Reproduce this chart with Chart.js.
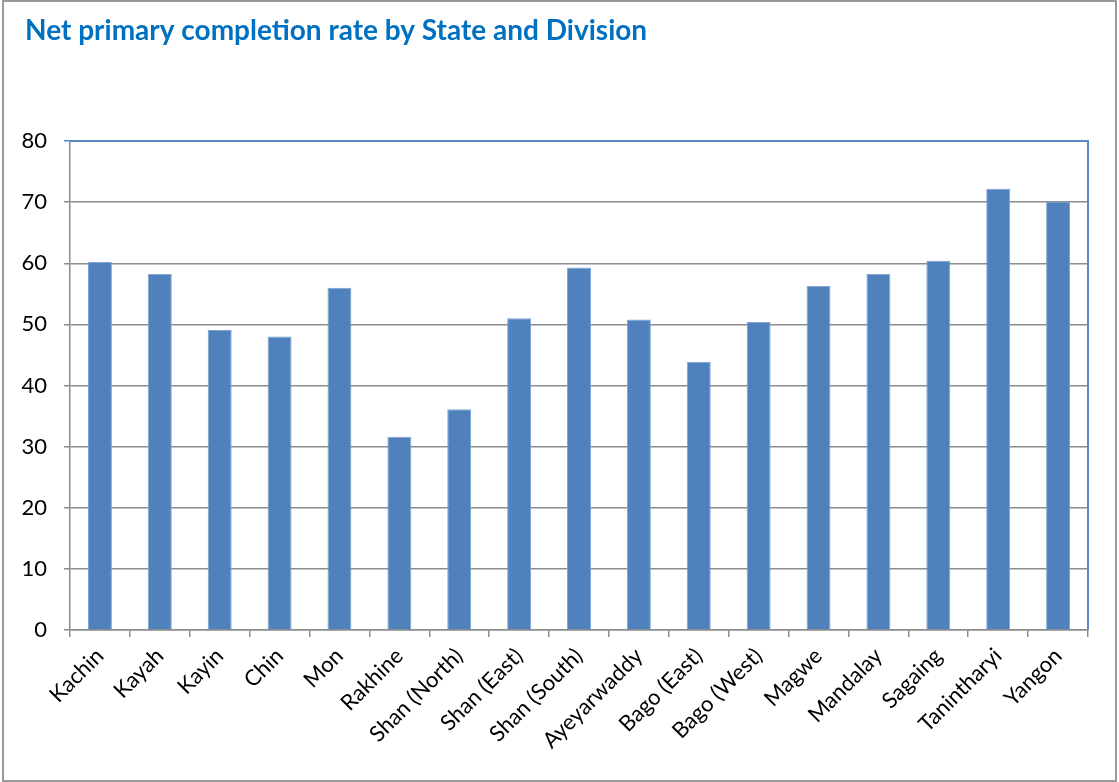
<!DOCTYPE html>
<html>
<head>
<meta charset="utf-8">
<script src="https://cdn.jsdelivr.net/npm/chart.js@4"></script>
<style>
  html, body { margin: 0; padding: 0; background: #ffffff; }
  #wrap { position: relative; width: 1119px; height: 782px; }
</style>
</head>
<body>
<div id="wrap"><canvas id="c" width="1119" height="782"></canvas></div>
<script>
const chartTitle = "Net primary completion rate by State and Division";
const categories = ["Kachin", "Kayah", "Kayin", "Chin", "Mon", "Rakhine", "Shan (North)", "Shan (East)", "Shan (South)", "Ayeyarwaddy", "Bago (East)", "Bago (West)", "Magwe", "Mandalay", "Sagaing", "Tanintharyi", "Yangon"];
const completionRate = [60.2, 58.3, 49.1, 48.0, 56.0, 31.6, 36.1, 51.0, 59.3, 50.8, 43.9, 50.4, 56.3, 58.3, 60.4, 72.2, 70.1];
const yTicks = [0, 10, 20, 30, 40, 50, 60, 70, 80];

const FONT = "Lato, 'Open Sans', 'DejaVu Sans', sans-serif";
const BLUE_BORDER = "#5B87C2";
const GRID = "#8C8C8C";

const framePlugin = {
  id: 'frame',
  beforeDraw(chart) {
    const ctx = chart.ctx;
    ctx.save();
    ctx.fillStyle = '#ffffff';
    ctx.fillRect(0, 0, chart.width, chart.height);
    ctx.strokeStyle = '#9A9A9A';
    ctx.lineWidth = 2;
    ctx.strokeRect(3, 1, 1113, 780);
    ctx.fillStyle = '#0070C0';
    ctx.font = "bold 28px " + FONT;
    ctx.textBaseline = 'alphabetic';
    ctx.textAlign = 'left';
    ctx.fillText(chartTitle, 25, 40);
    ctx.restore();
  },
  afterDatasetsDraw(chart) {
    const a = chart.chartArea;
    const ctx = chart.ctx;
    ctx.save();
    ctx.strokeStyle = BLUE_BORDER;
    ctx.lineWidth = 2;
    ctx.beginPath();
    ctx.moveTo(a.left, a.top);
    ctx.lineTo(a.right, a.top);
    ctx.lineTo(a.right, a.bottom);
    ctx.stroke();
    ctx.restore();
  }
};

new Chart(document.getElementById('c'), {
  type: 'bar',
  data: {
    labels: categories,
    datasets: [{
      data: completionRate,
      backgroundColor: '#4F81BD',
      borderColor: '#7FA3D3',
      borderWidth: 1,
      barPercentage: 0.4,
      categoryPercentage: 1.0
    }]
  },
  options: {
    responsive: false,
    animation: false,
    devicePixelRatio: 1,
    layout: { padding: { top: 141, right: 31, bottom: 0, left: 0 } },
    plugins: { legend: { display: false }, title: { display: false }, tooltip: { enabled: false } },
    scales: {
      x: {
        grid: { display: true, drawOnChartArea: false, drawTicks: true, tickLength: 7, color: GRID, lineWidth: 1.5, offset: true },
        border: { display: true, color: GRID, width: 1.5 },
        ticks: { color: '#000000', font: { family: FONT, size: 22 }, minRotation: 45, maxRotation: 45, padding: 6, autoSkip: false },
        afterFit(scale) { scale.height = 152; }
      },
      y: {
        min: 0, max: 80,
        afterBuildTicks(scale) { scale.ticks = yTicks.map(v => ({ value: v })); },
        grid: {
          color: ctx => (ctx.tick && ctx.tick.value === 80) ? BLUE_BORDER : GRID,
          lineWidth: 1.5, tickLength: 6, drawTicks: true
        },
        border: { display: true, color: GRID, width: 1.5 },
        ticks: { color: '#000000', font: { family: FONT, size: 22 }, padding: 17 },
        afterFit(scale) { scale.width = 70; }
      }
    }
  },
  plugins: [framePlugin]
});
</script>
</body>
</html>
